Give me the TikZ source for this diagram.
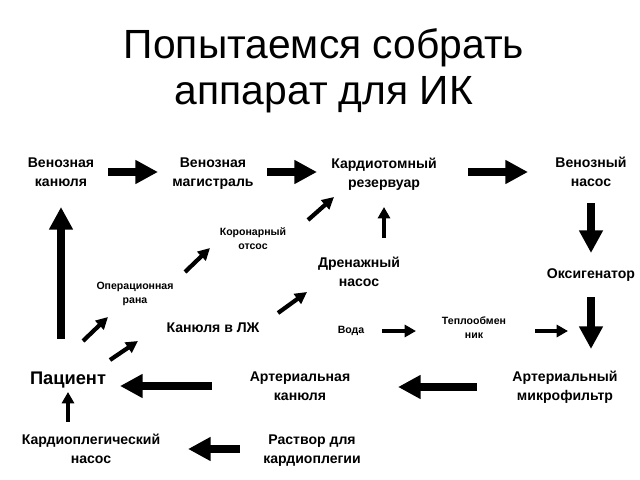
\documentclass[tikz,border=0pt]{standalone}
\usepackage{fontspec}
\setmainfont{Liberation Sans}
\usetikzlibrary{arrows.meta, calc}

\begin{document}
\begin{tikzpicture}[
    x=0.025cm, y=-0.025cm,
    title/.style={font=\fontsize{29}{32.5}\selectfont, align=center, inner sep=0pt},
    unit/.style={font=\bfseries\fontsize{10}{13.5}\selectfont, align=center, inner sep=0pt},
    smallunit/.style={font=\bfseries\fontsize{7.5}{10}\selectfont, align=center, inner sep=0pt},
    patient/.style={font=\bfseries\fontsize{13}{15}\selectfont, inner sep=0pt},
    bigarrow/.style={line width=5.7pt, -{Triangle[length=16pt,width=16pt]}},
    midarrow/.style={line width=2.8pt, -{Triangle[length=8pt,width=8.5pt]}},
    smallarrow/.style={line width=3pt, -{Triangle[length=8.5pt,width=8.5pt]}},
]
\useasboundingbox (0,0) rectangle (640,480);

% === TITLE ===
\node[title] (head) at (324,71) {Попытаемся собрать\\аппарат для ИК};

% === UNITS ===
\node[unit] (vkan) at (61,172) {Венозная\\канюля};
\node[unit] (vmag) at (213,174) {Венозная\\магистраль};
\node[unit] (rez) at (384,174) {Кардиотомный\\резервуар};
\node[unit] (vnas) at (591,172) {Венозный\\насос};
\node[smallunit] (kor) at (253,239) {Коронарный\\отсос};
\node[unit] (dren) at (359,272) {Дренажный\\насос};
\node[unit] (oks) at (591,275) {Оксигенатор};
\node[smallunit] (rana) at (135,294) {Операционная\\рана};
\node[unit] (lzh) at (213,328) {Канюля в ЛЖ};
\node[smallunit] (voda) at (351,331) {Вода};
\node[smallunit] (tep) at (474,328) {Теплообмен\\ник};
\node[patient] (pat) at (68,380) {Пациент};
\node[unit] (akan) at (300,386) {Артериальная\\канюля};
\node[unit] (mfil) at (565,387) {Артериальный\\микрофильтр};
\node[unit] (kpn) at (91,449) {Кардиоплегический\\насос};
\node[unit] (rkp) at (312,451) {Раствор для\\кардиоплегии};

% ends of the slanted arrows
\coordinate (pr0) at (83,341);  \coordinate (pr1) at (108,317);
\coordinate (pl0) at (110,360); \coordinate (pl1) at (138,341);
\coordinate (rk0) at (185,272); \coordinate (rk1) at (210,248);
\coordinate (kr0) at (308,220); \coordinate (kr1) at (334,197);
\coordinate (ld0) at (278,313); \coordinate (ld1) at (307,292);

% === ARROWS ===
% venous line
\draw[bigarrow, shorten <=1.175cm, shorten >=1.375cm] (vkan.center) -- (vmag.center |- vkan);
\draw[bigarrow, shorten <=1.35cm, shorten >=1.675cm] (vmag.center |- vkan) -- (rez.center |- vkan);
\draw[bigarrow, shorten <=2.1cm, shorten >=1.575cm] (rez.center |- vkan) -- (vnas.center);
\draw[bigarrow, shorten <=0.775cm, shorten >=0.55cm] (vnas.center) -- (oks.center);
\draw[bigarrow, shorten <=0.55cm, shorten >=0.95cm] (oks.center) -- (oks |- mfil);

% arterial line
\draw[bigarrow, shorten <=2.2cm, shorten >=2.45cm] (mfil.center) -- (akan.center |- mfil);
\draw[bigarrow, shorten <=2.2cm, shorten >=1.3cm] (akan.center) -- (akan -| pat);
\draw[bigarrow, shorten <=1.8cm, shorten >=2.425cm] (rkp.center |- kpn) -- (kpn.center);
\draw[midarrow, shorten <=0.675cm, shorten >=0.3cm] (pat |- kpn) -- (pat.center);
\draw[bigarrow, shorten <=1.025cm, shorten >=0.875cm] (vkan |- pat) -- (vkan.center);

% suction and drainage
\draw[smallarrow] (pr0) -- (pr1);
\draw[smallarrow] (pl0) -- (pl1);
\draw[smallarrow] (rk0) -- (rk1);
\draw[smallarrow] (kr0) -- (kr1);
\draw[smallarrow] (ld0) -- (ld1);
\draw[midarrow, shorten <=0.85cm, shorten >=0.825cm] (rez |- dren) -- (rez.center);

% heat exchanger
\draw[midarrow, shorten <=0.775cm, shorten >=1.45cm] (voda.center) -- (tep.center |- voda);
\draw[midarrow, shorten <=1.525cm, shorten >=0.575cm] (tep.center |- voda) -- (oks |- voda);

\end{tikzpicture}
\end{document}
